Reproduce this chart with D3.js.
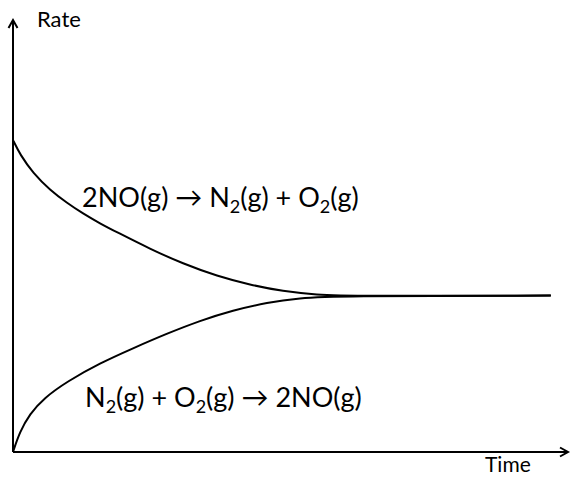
<!DOCTYPE html>
<html>
<head>
<meta charset="utf-8">
<script src="https://cdn.jsdelivr.net/npm/d3@7"></script>
<style>
  body { margin: 0; background: #fff; }
  svg { display: block; font-family: Lato, "Open Sans", sans-serif; }
</style>
</head>
<body>
<script>
// time values (arbitrary units, 0..100)
var forwardTime = [0, 1.3, 3.6, 6.7, 9.7, 12.6, 15.7, 18.7, 24.7, 30.6, 36.8, 42.7, 48.6, 54.8, 60.7, 96.9];
var forwardRate = [72.2, 68.8, 64.6, 60.6, 57.7, 55.2, 52.9, 50.9, 47.0, 43.6, 40.7, 38.7, 37.2, 36.4, 36.1, 36.2];

var reverseTime = [0, 1.2, 3.0, 5.6, 9.7, 15.7, 21.6, 27.7, 33.7, 39.6, 45.8, 51.7, 57.7, 96.9];
var reverseRate = [0, 4.6, 8.8, 12.5, 16.3, 20.6, 24.0, 27.4, 30.4, 32.8, 34.6, 35.6, 36.1, 36.2];

// labels: [main text, subscript] pieces
var forwardLabel = [["2NO(g) \u2192 N", "2"], ["(g) + O", "2"], ["(g)", ""]];
var reverseLabel = [["N", "2"], ["(g) + O", "2"], ["(g) \u2192 2NO(g)", ""]];
var yTitle = "Rate";
var xTitle = "Time";

var width = 571, height = 477;

var svg = d3.select("body").append("svg")
    .attr("width", width)
    .attr("height", height);

var x = d3.scaleLinear().domain([0, 100]).range([13, 568]);
var y = d3.scaleLinear().domain([0, 100]).range([452, 20]);

var axes = svg.append("g")
    .attr("fill", "none")
    .attr("stroke", "#000")
    .attr("stroke-width", 2);

// y axis with open arrow head
axes.append("line")
    .attr("x1", x(0)).attr("y1", y(0))
    .attr("x2", x(0)).attr("y2", y(100));
axes.append("path")
    .attr("d", "M" + (x(0) - 4.5) + "," + (y(100) + 8) + "L" + x(0) + "," + y(100) + "L" + (x(0) + 4.5) + "," + (y(100) + 8));

// x axis with open arrow head
axes.append("line")
    .attr("x1", x(0)).attr("y1", y(0))
    .attr("x2", x(100)).attr("y2", y(0));
axes.append("path")
    .attr("d", "M" + (x(100) - 8) + "," + (y(0) - 4.5) + "L" + x(100) + "," + y(0) + "L" + (x(100) - 8) + "," + (y(0) + 4.5));

var line = d3.line()
    .x(function(d) { return x(d[0]); })
    .y(function(d) { return y(d[1]); })
    .curve(d3.curveBasis);

svg.append("path")
    .datum(d3.zip(forwardTime, forwardRate))
    .attr("d", line)
    .attr("fill", "none")
    .attr("stroke", "#000")
    .attr("stroke-width", 2);

svg.append("path")
    .datum(d3.zip(reverseTime, reverseRate))
    .attr("d", line)
    .attr("fill", "none")
    .attr("stroke", "#000")
    .attr("stroke-width", 2);

// axis titles
svg.append("text")
    .attr("x", 37).attr("y", 27)
    .attr("font-size", 22)
    .text(yTitle);

svg.append("text")
    .attr("x", 485).attr("y", 472)
    .attr("font-size", 21)
    .text(xTitle);

// equation labels with subscripts
function equation(parts, px, py) {
    var t = svg.append("text")
        .attr("x", px).attr("y", py)
        .attr("font-size", 27);
    var shift = 0;
    parts.forEach(function(p) {
        t.append("tspan").attr("dy", -shift).text(p[0]);
        shift = 0;
        if (p[1]) {
            t.append("tspan").attr("font-size", 18).attr("dy", 6).text(p[1]);
            shift = 6;
        }
    });
}

equation(forwardLabel, 82, 207);
equation(reverseLabel, 85, 407);
</script>
</body>
</html>
